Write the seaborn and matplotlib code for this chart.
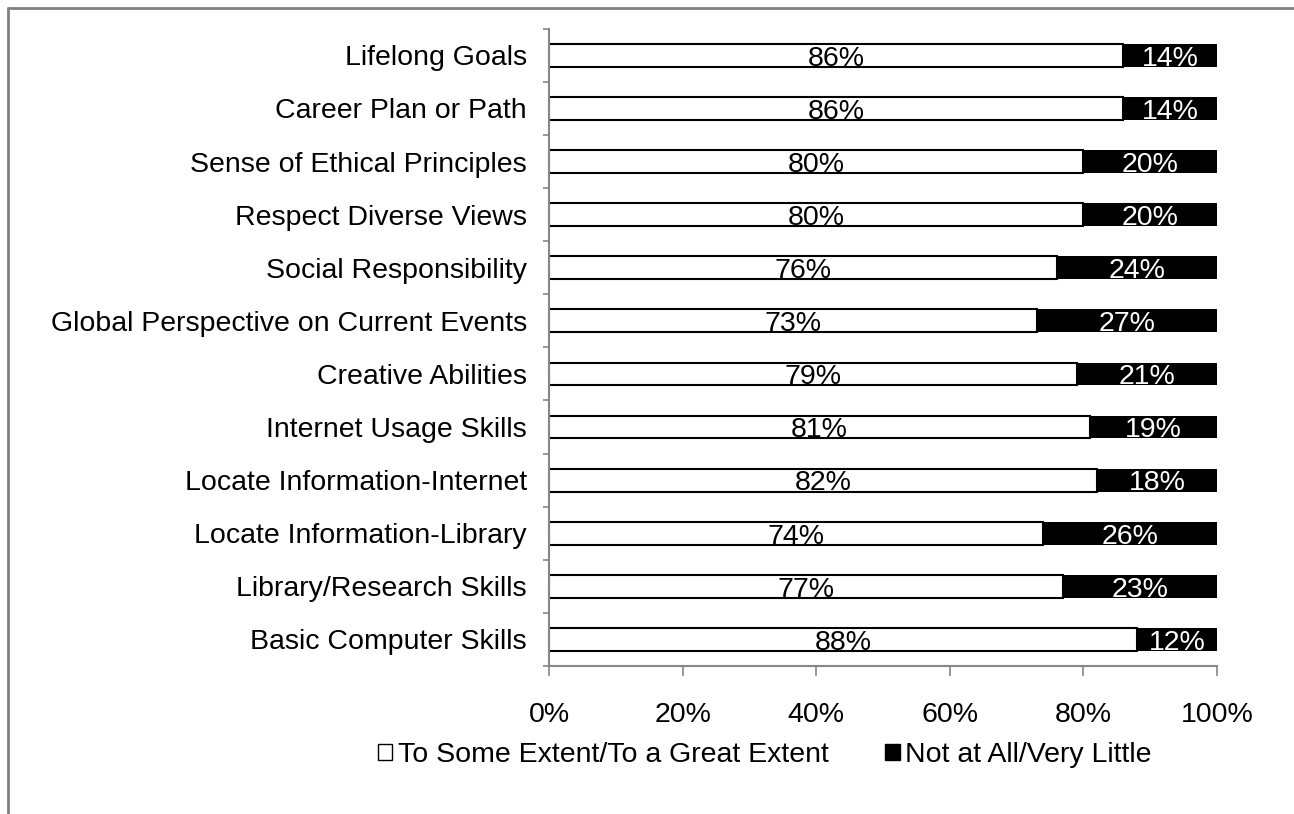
import pandas as pd
import matplotlib
matplotlib.use('Agg')
import matplotlib.pyplot as plt
from matplotlib.patches import Patch
from matplotlib.lines import Line2D
import seaborn as sns

items = ['Lifelong Goals', 'Career Plan or Path', 'Sense of Ethical Principles',
         'Respect Diverse Views', 'Social Responsibility',
         'Global Perspective on Current Events', 'Creative Abilities',
         'Internet Usage Skills', 'Locate Information-Internet',
         'Locate Information-Library', 'Library/Research Skills',
         'Basic Computer Skills']
some_extent = [86, 86, 80, 80, 76, 73, 79, 81, 82, 74, 77, 88]
very_little = [14, 14, 20, 20, 24, 27, 21, 19, 18, 26, 23, 12]
x_ticks = [0, 20, 40, 60, 80, 100]
legend_labels = ['To Some Extent/To a Great Extent', 'Not at All/Very Little']

sns.set_style('white')
plt.rcParams['font.family'] = ['Liberation Sans', 'DejaVu Sans']
plt.rcParams['text.color'] = 'black'
fs = 20.5
grey = '#868686'

df = pd.DataFrame({'item': items, 'some': some_extent, 'little': very_little})
df['total'] = df['some'] + df['little']

fig = plt.figure(figsize=(12.94, 8.14), dpi=100)
ax = fig.add_axes([0.4243, 0.1818, 0.5162, 0.7829])

# full bar in black, white part drawn over it
sns.barplot(data=df, x='total', y='item', orient='h', color='black',
            saturation=1, width=0.43, linewidth=0, ax=ax)
sns.barplot(data=df, x='some', y='item', orient='h', color='white',
            saturation=1, width=0.43, edgecolor='black', linewidth=1.5, ax=ax)

for i, row in df.iterrows():
    ax.text(row['some'] / 2, i + 0.195, f"{row['some']}%", ha='center',
            va='baseline', fontsize=fs, color='black')
    ax.text(row['some'] + row['little'] / 2, i + 0.195, f"{row['little']}%",
            ha='center', va='baseline', fontsize=fs, color='white')

ax.set_xlim(0, 100)
ax.set_ylim(len(items) - 0.5, -0.5)
ax.set_xticks(x_ticks)
ax.set_xticklabels([f'{t}%' for t in x_ticks], fontsize=fs)
ax.set_yticks(range(len(items)))
ax.set_yticklabels(items, fontsize=fs)
ax.set_yticks([i - 0.5 for i in range(len(items) + 1)], minor=True)
ax.set_xlabel('')
ax.set_ylabel('')

for s in ['top', 'right']:
    ax.spines[s].set_visible(False)
for s in ['left', 'bottom']:
    ax.spines[s].set_color(grey)
    ax.spines[s].set_linewidth(1.5)

ax.tick_params(axis='y', which='major', length=0, pad=16, labelcolor='black')
ax.tick_params(axis='y', which='minor', length=4.3, width=1.2, color=grey,
               direction='out', left=True)
ax.tick_params(axis='x', which='major', length=7.2, width=1.2, color=grey,
               direction='out', bottom=True, pad=19, labelcolor='black')

handles = [Patch(facecolor='white', edgecolor='black', linewidth=1),
           Patch(facecolor='black', edgecolor='black', linewidth=1)]
fig.legend(handles, legend_labels, loc='center', bbox_to_anchor=(0.591, 0.0725),
           ncol=2, frameon=False, fontsize=fs, handlelength=0.5,
           handleheight=0.5, handletextpad=0.2, columnspacing=2.0,
           labelcolor='black')

# outer chart border (only top and left visible)
fig.add_artist(Line2D([0.0062, 0.0062], [0, 0.9902], color='#808080', lw=2))
fig.add_artist(Line2D([0.0062, 1], [0.9902, 0.9902], color='#808080', lw=2))

fig.savefig('out.png', dpi=100)
